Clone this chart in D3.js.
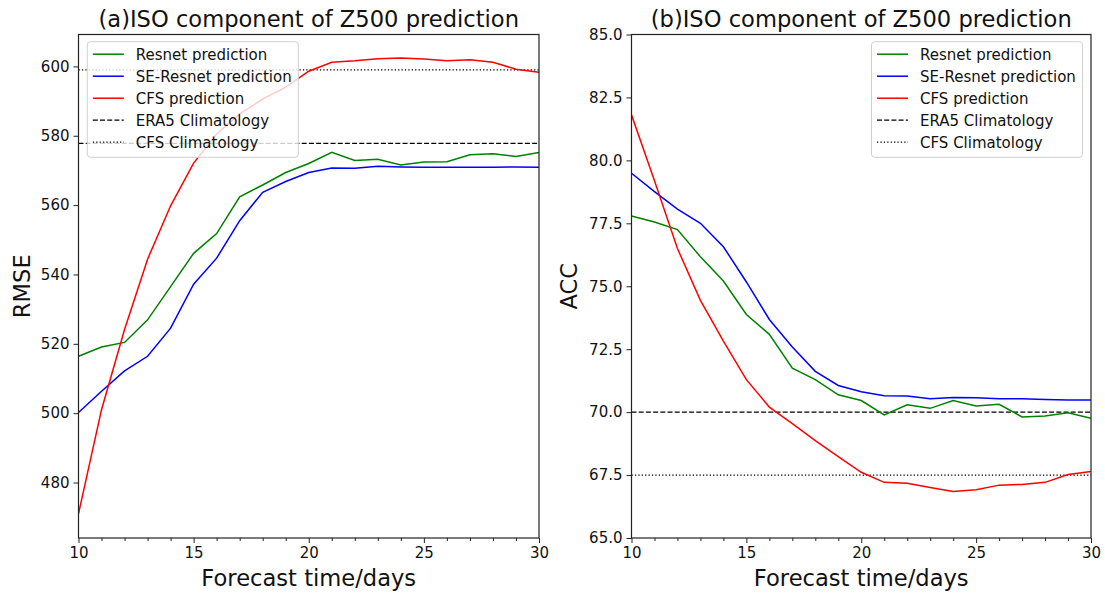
<!DOCTYPE html>
<html>
<head>
<meta charset="utf-8">
<script src="https://cdn.jsdelivr.net/npm/d3@7"></script>
<style>
  body { margin: 0; background: #fff; }
  svg { font-family: "DejaVu Sans", sans-serif; }
</style>
</head>
<body>
<div id="chart-area"></div>
<script>
// forecast lead times (days)
const days = [10, 11, 12, 13, 14, 15, 16, 17, 18, 19, 20, 21, 22, 23, 24, 25, 26, 27, 28, 29, 30]

// (a) RMSE
const rmseResnet = [516.4, 519.1, 520.4, 526.9, 536.5, 546.1, 551.8, 562.4, 565.8, 569.4, 572.0, 575.2, 572.9, 573.2, 571.6, 572.4, 572.5, 574.5, 574.8, 574.0, 575.2]
const rmseSEResnet = [500.2, 506.3, 512.2, 516.4, 524.5, 537.2, 544.7, 555.5, 563.7, 566.8, 569.4, 570.7, 570.6, 571.2, 571.0, 570.9, 570.9, 570.9, 570.9, 571.0, 570.9]
const rmseCFS = [471.0, 501.0, 524.1, 544.4, 559.8, 572.1, 580.5, 586.3, 590.6, 594.0, 598.6, 601.2, 601.6, 602.2, 602.4, 602.1, 601.6, 601.9, 601.2, 599.2, 598.3]
const rmseEra5Clim = 577.8
const rmseCfsClim = 599.0
const rmseTicks = [480, 500, 520, 540, 560, 580, 600]

// (b) ACC
const accResnet = [77.79, 77.55, 77.25, 76.17, 75.21, 73.88, 73.09, 71.75, 71.29, 70.69, 70.46, 69.89, 70.29, 70.15, 70.46, 70.24, 70.31, 69.81, 69.85, 69.97, 69.76]
const accSEResnet = [79.49, 78.76, 78.06, 77.50, 76.57, 75.17, 73.68, 72.59, 71.62, 71.06, 70.81, 70.65, 70.64, 70.53, 70.58, 70.57, 70.53, 70.53, 70.50, 70.48, 70.48]
const accCFS = [81.81, 79.19, 76.5, 74.44, 72.82, 71.29, 70.2, 69.54, 68.87, 68.23, 67.61, 67.21, 67.17, 67.01, 66.85, 66.92, 67.1, 67.13, 67.21, 67.52, 67.64]
const accEra5Clim = 70.0
const accCfsClim = 67.5
const accTicks = [65.0, 67.5, 70.0, 72.5, 75.0, 77.5, 80.0, 82.5, 85.0]

const xTicks = [10, 15, 20, 25, 30]
const legendLabels = ["Resnet prediction", "SE-Resnet prediction", "CFS prediction", "ERA5 Climatology", "CFS Climatology"]
const seriesColors = ["green", "blue", "red"]

const svg = d3.select("#chart-area").append("svg")
    .attr("width", 1105)
    .attr("height", 598)

function panel(cfg) {
    const g = svg.append("g")
    const x = d3.scaleLinear().domain([10, 30]).range([cfg.left, cfg.right])
    const y = d3.scaleLinear().domain(cfg.yDomain).range([cfg.bottom, cfg.top])

    // clip so lines stay inside the axes box
    const clipId = "clip-" + cfg.id
    svg.append("clipPath").attr("id", clipId).append("rect")
        .attr("x", cfg.left).attr("y", cfg.top)
        .attr("width", cfg.right - cfg.left).attr("height", cfg.bottom - cfg.top)

    const plot = g.append("g").attr("clip-path", `url(#${clipId})`)

    // climatology reference lines
    plot.append("line")
        .attr("x1", x(10)).attr("x2", x(30))
        .attr("y1", y(cfg.era5)).attr("y2", y(cfg.era5))
        .attr("stroke", "#000").attr("stroke-width", 1.3)
        .attr("stroke-dasharray", "5,2.2")
    plot.append("line")
        .attr("x1", x(10)).attr("x2", x(30))
        .attr("y1", y(cfg.cfsClim)).attr("y2", y(cfg.cfsClim))
        .attr("stroke", "#000").attr("stroke-width", 1.3)
        .attr("stroke-dasharray", "1.3,2.1")

    const line = d3.line().x((d, i) => x(days[i])).y(d => y(d))
    cfg.series.forEach((s, k) => {
        plot.append("path")
            .datum(s)
            .attr("d", line)
            .attr("fill", "none")
            .attr("stroke", seriesColors[k])
            .attr("stroke-width", 1.5)
    })

    // axes
    const xAxis = g.append("g")
        .attr("transform", `translate(0,${cfg.bottom})`)
        .call(d3.axisBottom(x).tickValues(xTicks).tickSize(5).tickSizeOuter(0).tickPadding(4)
            .tickFormat(d3.format("d")))
    g.append("g")
        .attr("transform", `translate(0,${cfg.bottom})`)
        .call(d3.axisBottom(x).tickValues(days.filter(d => d % 5 !== 0)).tickSize(3)
            .tickSizeOuter(0).tickFormat(""))
        .call(a => a.select(".domain").remove())
        .selectAll("line").attr("stroke", "#222")

    const yAxis = g.append("g")
        .attr("transform", `translate(${cfg.left},0)`)
        .call(d3.axisLeft(y).tickValues(cfg.yTicks).tickSize(5).tickSizeOuter(0).tickPadding(4)
            .tickFormat(cfg.yFormat))

    ;[xAxis, yAxis].forEach(a => {
        a.select(".domain").remove()
        a.selectAll("line").attr("stroke", "#222")
        a.selectAll("text").attr("font-size", 15).attr("fill", "#111")
            .attr("font-family", "DejaVu Sans")
    })

    // spines
    g.append("rect")
        .attr("x", cfg.left).attr("y", cfg.top)
        .attr("width", cfg.right - cfg.left).attr("height", cfg.bottom - cfg.top)
        .attr("fill", "none").attr("stroke", "#222").attr("stroke-width", 1.2)

    // titles and labels
    g.append("text")
        .attr("x", (cfg.left + cfg.right) / 2).attr("y", 26.5)
        .attr("text-anchor", "middle").attr("font-size", 22.6).attr("fill", "#111")
        .text(cfg.title)
    g.append("text")
        .attr("x", (cfg.left + cfg.right) / 2).attr("y", 586)
        .attr("text-anchor", "middle").attr("font-size", 22.6).attr("fill", "#111")
        .text("Forecast time/days")
    g.append("text")
        .attr("transform", `translate(${cfg.ylabelX},${(cfg.top + cfg.bottom) / 2}) rotate(-90)`)
        .attr("text-anchor", "middle").attr("font-size", 22.6).attr("fill", "#111")
        .text(cfg.ylabel)

    // legend
    const lg = g.append("g").attr("transform", `translate(${cfg.legendX},41.7)`)
    lg.append("rect")
        .attr("width", 211).attr("height", 115.6).attr("rx", 3)
        .attr("fill", "#fff").attr("fill-opacity", 0.8)
        .attr("stroke", "#d0d0d0").attr("stroke-width", 1)
    legendLabels.forEach((lab, i) => {
        const yy = 12.5 + i * 22
        const l = lg.append("line")
            .attr("x1", 5.5).attr("x2", 36.5).attr("y1", yy).attr("y2", yy)
            .attr("stroke-width", i < 3 ? 1.5 : 1.3)
            .attr("stroke", i < 3 ? seriesColors[i] : "#000")
        if (i === 3) l.attr("stroke-dasharray", "5,2.2")
        if (i === 4) l.attr("stroke-dasharray", "1.3,2.1")
        lg.append("text")
            .attr("x", 48.5).attr("y", yy + 5.5)
            .attr("font-size", 15).attr("fill", "#111")
            .text(lab)
    })
}

panel({
    id: "a", left: 78.5, right: 539, top: 34.5, bottom: 538,
    yDomain: [464, 609.2], yTicks: rmseTicks, yFormat: d3.format("d"),
    series: [rmseResnet, rmseSEResnet, rmseCFS],
    era5: rmseEra5Clim, cfsClim: rmseCfsClim,
    title: "(a)ISO component of Z500 prediction", ylabel: "RMSE", ylabelX: 30,
    legendX: 87.3
})

panel({
    id: "b", left: 631.5, right: 1091, top: 34.5, bottom: 538,
    yDomain: [65, 85], yTicks: accTicks, yFormat: d3.format(".1f"),
    series: [accResnet, accSEResnet, accCFS],
    era5: accEra5Clim, cfsClim: accCfsClim,
    title: "(b)ISO component of Z500 prediction", ylabel: "ACC", ylabelX: 576.5,
    legendX: 871.5
})
</script>
</body>
</html>
